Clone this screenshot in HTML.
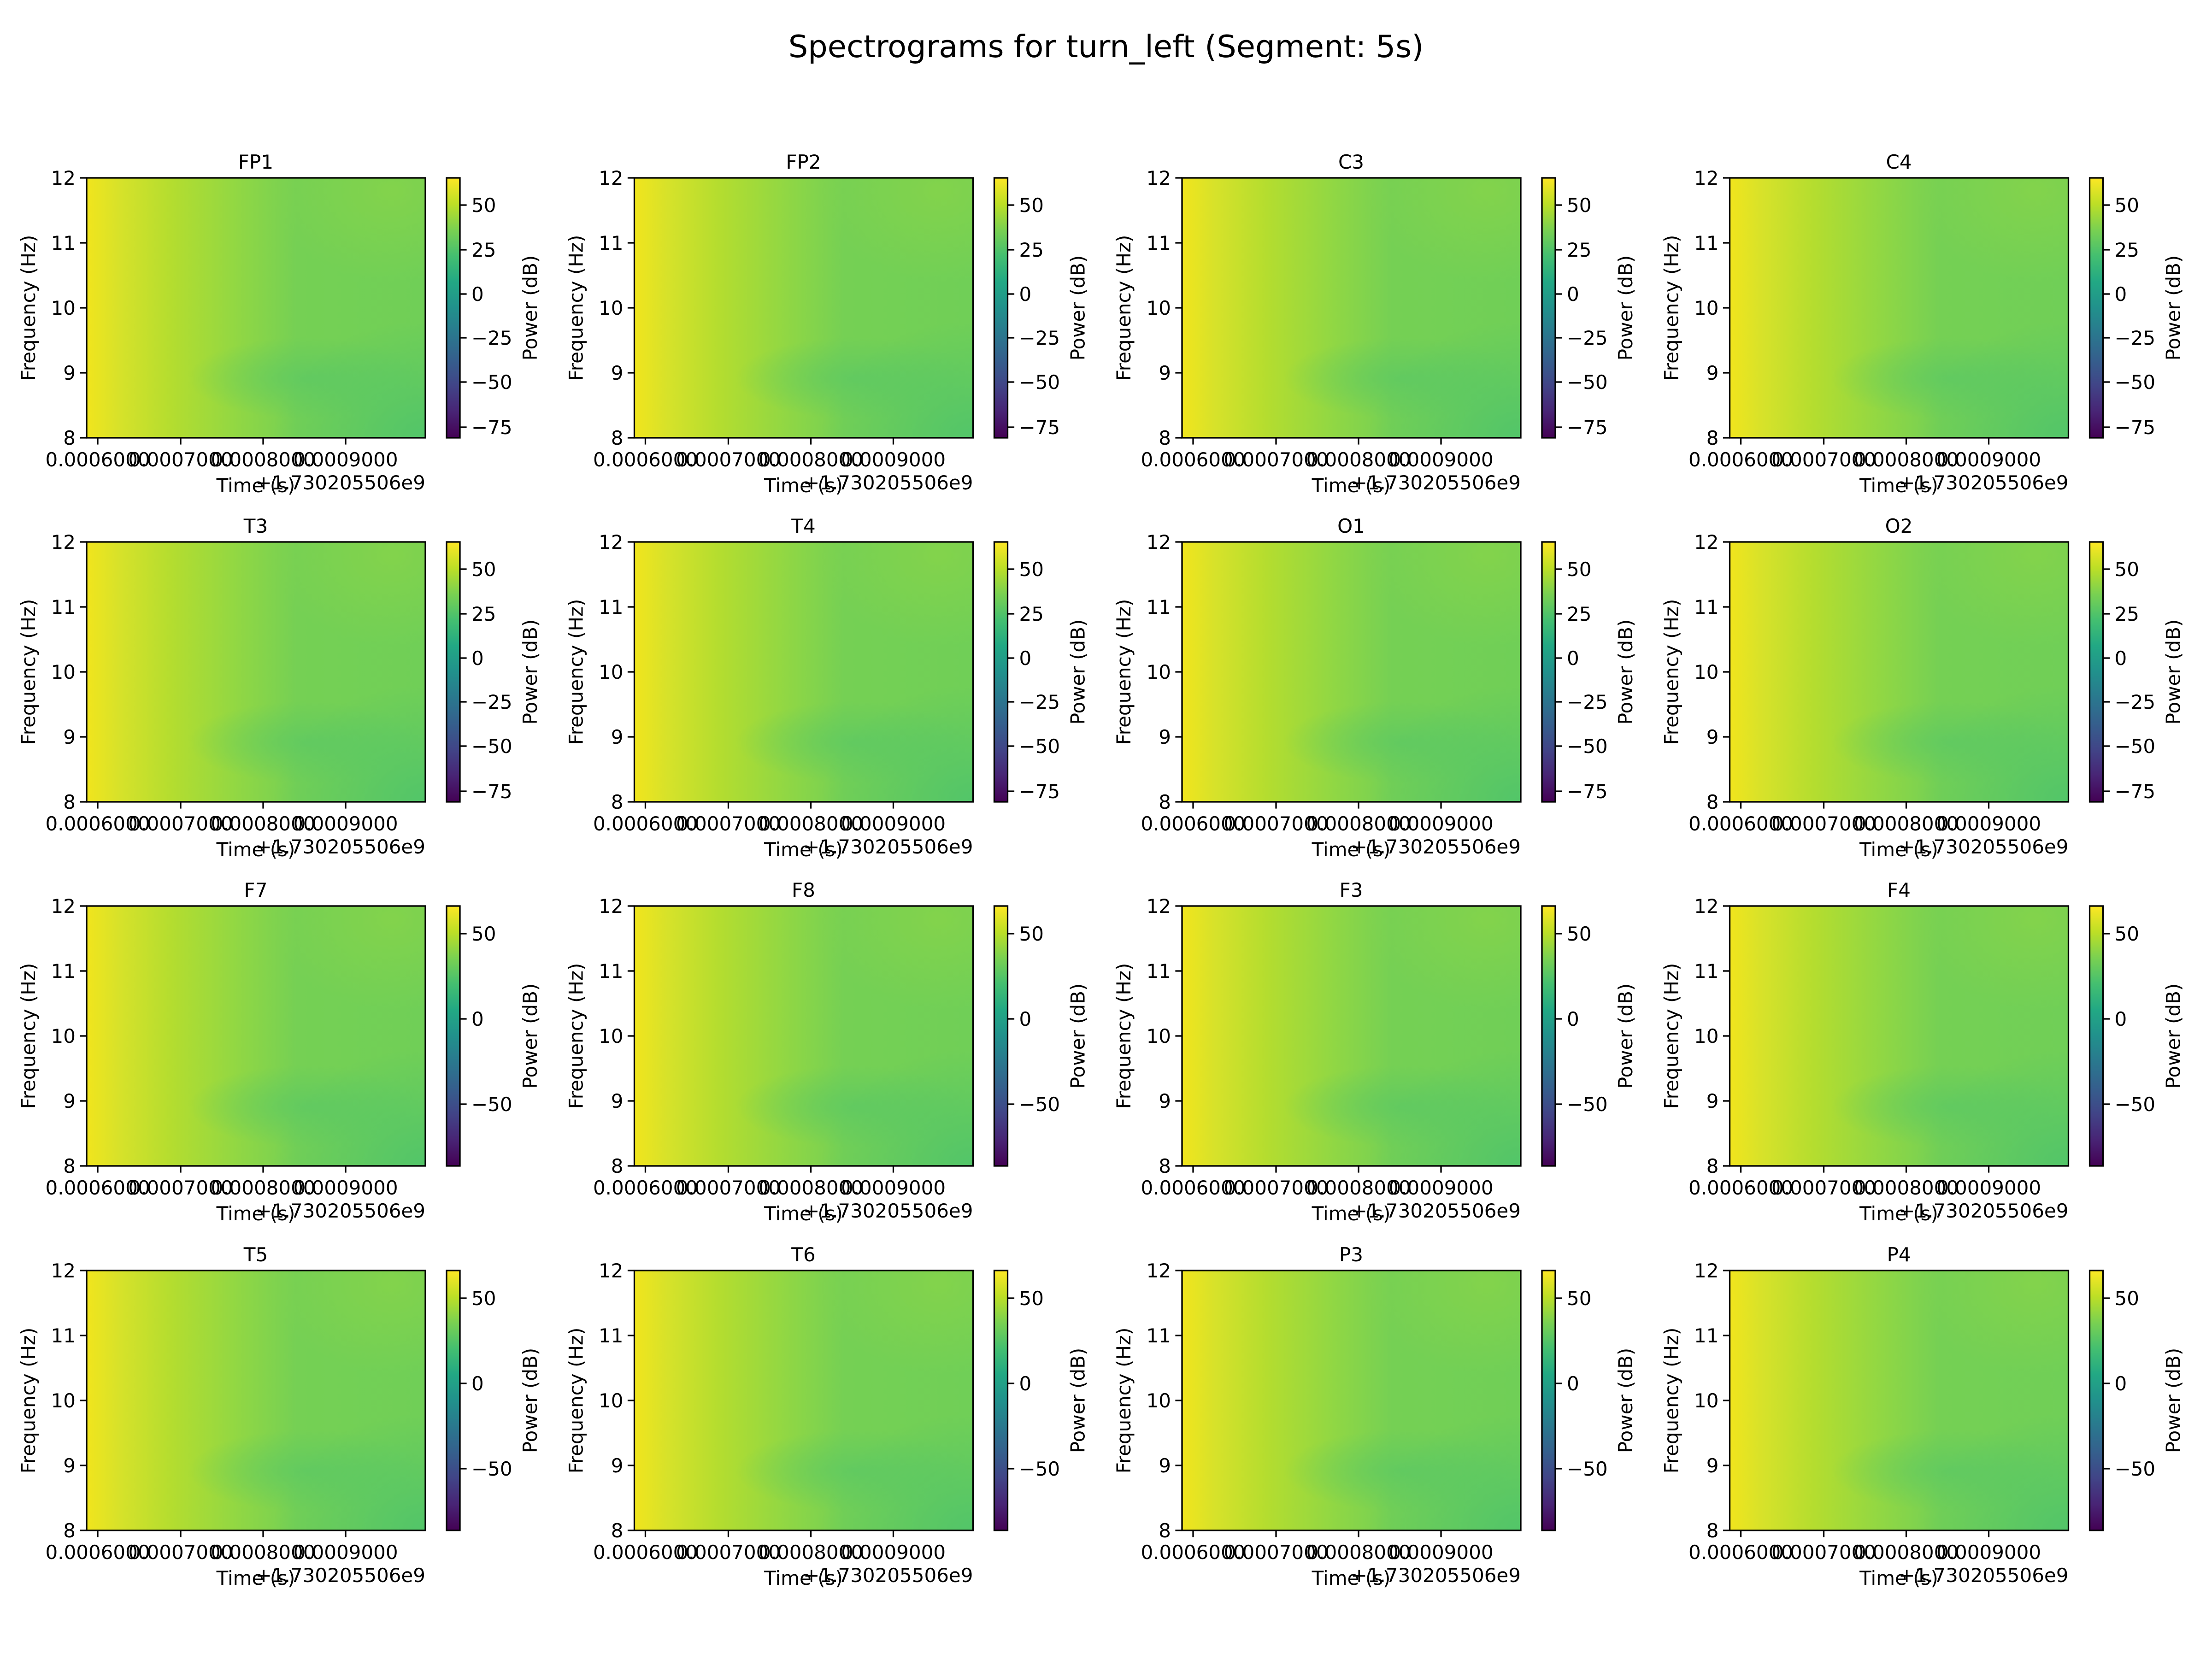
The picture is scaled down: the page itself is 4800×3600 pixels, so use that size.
<!DOCTYPE html>
<html><head><meta charset="utf-8"><style>
html,body{margin:0;padding:0;background:#fff;}
svg{display:block;}
text{font-family:"DejaVu Sans","Liberation Sans",sans-serif;fill:#000;}
.t{font-size:42px;}
.m{text-anchor:middle;}
.e{text-anchor:end;}
</style></head><body>
<svg width="4800" height="3600" viewBox="0 0 4800 3600" xmlns="http://www.w3.org/2000/svg">
<defs>
<linearGradient id="hx" x1="0" y1="0" x2="1" y2="0">
<stop offset="0" stop-color="#f1e51d"/><stop offset="0.1" stop-color="#d6e22a"/><stop offset="0.25" stop-color="#b4dd2f"/><stop offset="0.45" stop-color="#90d744"/><stop offset="0.62" stop-color="#75d054"/><stop offset="1" stop-color="#70cf57"/>
</linearGradient>
<radialGradient id="r1" cx="0.65" cy="0.77" r="0.35" gradientTransform="translate(0.65 0.77) scale(1 0.45) translate(-0.65 -0.77)">
<stop offset="0" stop-color="#5ec962" stop-opacity="0.8"/><stop offset="1" stop-color="#5ec962" stop-opacity="0"/>
</radialGradient>
<radialGradient id="r2" cx="1" cy="1" r="0.45">
<stop offset="0" stop-color="#52c569" stop-opacity="1"/><stop offset="1" stop-color="#52c569" stop-opacity="0"/>
</radialGradient>
<radialGradient id="r3" cx="0.9" cy="0.05" r="0.35">
<stop offset="0" stop-color="#8ad547" stop-opacity="0.7"/><stop offset="1" stop-color="#8ad547" stop-opacity="0"/>
</radialGradient>
<linearGradient id="vir" x1="0" y1="1" x2="0" y2="0">
<stop offset="0" stop-color="#440154"/><stop offset="0.1" stop-color="#482475"/><stop offset="0.2" stop-color="#414487"/><stop offset="0.3" stop-color="#355f8d"/><stop offset="0.4" stop-color="#2a788e"/><stop offset="0.5" stop-color="#21918c"/><stop offset="0.6" stop-color="#22a884"/><stop offset="0.7" stop-color="#44bf70"/><stop offset="0.8" stop-color="#7ad151"/><stop offset="0.9" stop-color="#bddf26"/><stop offset="1" stop-color="#fde725"/>
</linearGradient>
<g id="base">
<rect x="0" y="0" width="735" height="564" fill="url(#hx)"/>
<rect x="0" y="0" width="735" height="564" fill="url(#r1)"/>
<rect x="0" y="0" width="735" height="564" fill="url(#r2)"/>
<rect x="0" y="0" width="735" height="564" fill="url(#r3)"/>
<rect x="0" y="0" width="735" height="564" fill="none" stroke="#000" stroke-width="3.3"/>
<g stroke="#000" stroke-width="3.3">
<line x1="-14.6" y1="0" x2="0" y2="0"/><line x1="-14.6" y1="141" x2="0" y2="141"/><line x1="-14.6" y1="282" x2="0" y2="282"/><line x1="-14.6" y1="423" x2="0" y2="423"/><line x1="-14.6" y1="564" x2="0" y2="564"/>
<line x1="24" y1="564" x2="24" y2="578.6"/><line x1="204" y1="564" x2="204" y2="578.6"/><line x1="383" y1="564" x2="383" y2="578.6"/><line x1="562" y1="564" x2="562" y2="578.6"/>
</g>
<rect x="781" y="0" width="29" height="564" fill="url(#vir)" stroke="#000" stroke-width="3.3"/>
</g>
<g id="cbA" stroke="#000" stroke-width="3.3">
<line x1="810" y1="59" x2="824.6" y2="59"/><line x1="810" y1="156" x2="824.6" y2="156"/><line x1="810" y1="252" x2="824.6" y2="252"/><line x1="810" y1="347" x2="824.6" y2="347"/><line x1="810" y1="443" x2="824.6" y2="443"/><line x1="810" y1="541" x2="824.6" y2="541"/>
</g>
<g id="cbB" stroke="#000" stroke-width="3.3">
<line x1="810" y1="60" x2="824.6" y2="60"/><line x1="810" y1="245" x2="824.6" y2="245"/><line x1="810" y1="430" x2="824.6" y2="430"/>
</g>
</defs>
<text x="2400" y="124" style="font-size:67px" class="m">Spectrograms for turn_left (Segment: 5s)</text>

<!-- Row 1 -->
<g transform="translate(188,386)"><use href="#base"/><use href="#cbA"/><text x="367" y="-20" class="t m">FP1</text><text x="-24" y="15" class="t e">12</text><text x="-24" y="156" class="t e">11</text><text x="-24" y="297" class="t e">10</text><text x="-24" y="438" class="t e">9</text><text x="-24" y="579" class="t e">8</text><text x="24" y="626" class="t m">0.0006000</text><text x="204" y="626" class="t m">0.0007000</text><text x="383" y="626" class="t m">0.0008000</text><text x="562" y="626" class="t m">0.0009000</text><text x="735" y="676" class="t e">+1.730205506e9</text><text x="367" y="682" class="t m">Time (s)</text><text transform="translate(-112,282) rotate(-90)" class="t m">Frequency (Hz)</text><text x="835" y="74" class="t">50</text><text x="835" y="171" class="t">25</text><text x="835" y="267" class="t">0</text><text x="835" y="362" class="t">−25</text><text x="835" y="458" class="t">−50</text><text x="835" y="556" class="t">−75</text><text transform="translate(977,282) rotate(-90)" class="t m">Power (dB)</text></g>
<g transform="translate(1376.5,386)"><use href="#base"/><use href="#cbA"/><text x="367" y="-20" class="t m">FP2</text><text x="-24" y="15" class="t e">12</text><text x="-24" y="156" class="t e">11</text><text x="-24" y="297" class="t e">10</text><text x="-24" y="438" class="t e">9</text><text x="-24" y="579" class="t e">8</text><text x="24" y="626" class="t m">0.0006000</text><text x="204" y="626" class="t m">0.0007000</text><text x="383" y="626" class="t m">0.0008000</text><text x="562" y="626" class="t m">0.0009000</text><text x="735" y="676" class="t e">+1.730205506e9</text><text x="367" y="682" class="t m">Time (s)</text><text transform="translate(-112,282) rotate(-90)" class="t m">Frequency (Hz)</text><text x="835" y="74" class="t">50</text><text x="835" y="171" class="t">25</text><text x="835" y="267" class="t">0</text><text x="835" y="362" class="t">−25</text><text x="835" y="458" class="t">−50</text><text x="835" y="556" class="t">−75</text><text transform="translate(977,282) rotate(-90)" class="t m">Power (dB)</text></g>
<g transform="translate(2565,386)"><use href="#base"/><use href="#cbA"/><text x="367" y="-20" class="t m">C3</text><text x="-24" y="15" class="t e">12</text><text x="-24" y="156" class="t e">11</text><text x="-24" y="297" class="t e">10</text><text x="-24" y="438" class="t e">9</text><text x="-24" y="579" class="t e">8</text><text x="24" y="626" class="t m">0.0006000</text><text x="204" y="626" class="t m">0.0007000</text><text x="383" y="626" class="t m">0.0008000</text><text x="562" y="626" class="t m">0.0009000</text><text x="735" y="676" class="t e">+1.730205506e9</text><text x="367" y="682" class="t m">Time (s)</text><text transform="translate(-112,282) rotate(-90)" class="t m">Frequency (Hz)</text><text x="835" y="74" class="t">50</text><text x="835" y="171" class="t">25</text><text x="835" y="267" class="t">0</text><text x="835" y="362" class="t">−25</text><text x="835" y="458" class="t">−50</text><text x="835" y="556" class="t">−75</text><text transform="translate(977,282) rotate(-90)" class="t m">Power (dB)</text></g>
<g transform="translate(3753.5,386)"><use href="#base"/><use href="#cbA"/><text x="367" y="-20" class="t m">C4</text><text x="-24" y="15" class="t e">12</text><text x="-24" y="156" class="t e">11</text><text x="-24" y="297" class="t e">10</text><text x="-24" y="438" class="t e">9</text><text x="-24" y="579" class="t e">8</text><text x="24" y="626" class="t m">0.0006000</text><text x="204" y="626" class="t m">0.0007000</text><text x="383" y="626" class="t m">0.0008000</text><text x="562" y="626" class="t m">0.0009000</text><text x="735" y="676" class="t e">+1.730205506e9</text><text x="367" y="682" class="t m">Time (s)</text><text transform="translate(-112,282) rotate(-90)" class="t m">Frequency (Hz)</text><text x="835" y="74" class="t">50</text><text x="835" y="171" class="t">25</text><text x="835" y="267" class="t">0</text><text x="835" y="362" class="t">−25</text><text x="835" y="458" class="t">−50</text><text x="835" y="556" class="t">−75</text><text transform="translate(977,282) rotate(-90)" class="t m">Power (dB)</text></g>

<!-- Row 2 -->
<g transform="translate(188,1176)"><use href="#base"/><use href="#cbA"/><text x="367" y="-20" class="t m">T3</text><text x="-24" y="15" class="t e">12</text><text x="-24" y="156" class="t e">11</text><text x="-24" y="297" class="t e">10</text><text x="-24" y="438" class="t e">9</text><text x="-24" y="579" class="t e">8</text><text x="24" y="626" class="t m">0.0006000</text><text x="204" y="626" class="t m">0.0007000</text><text x="383" y="626" class="t m">0.0008000</text><text x="562" y="626" class="t m">0.0009000</text><text x="735" y="676" class="t e">+1.730205506e9</text><text x="367" y="682" class="t m">Time (s)</text><text transform="translate(-112,282) rotate(-90)" class="t m">Frequency (Hz)</text><text x="835" y="74" class="t">50</text><text x="835" y="171" class="t">25</text><text x="835" y="267" class="t">0</text><text x="835" y="362" class="t">−25</text><text x="835" y="458" class="t">−50</text><text x="835" y="556" class="t">−75</text><text transform="translate(977,282) rotate(-90)" class="t m">Power (dB)</text></g>
<g transform="translate(1376.5,1176)"><use href="#base"/><use href="#cbA"/><text x="367" y="-20" class="t m">T4</text><text x="-24" y="15" class="t e">12</text><text x="-24" y="156" class="t e">11</text><text x="-24" y="297" class="t e">10</text><text x="-24" y="438" class="t e">9</text><text x="-24" y="579" class="t e">8</text><text x="24" y="626" class="t m">0.0006000</text><text x="204" y="626" class="t m">0.0007000</text><text x="383" y="626" class="t m">0.0008000</text><text x="562" y="626" class="t m">0.0009000</text><text x="735" y="676" class="t e">+1.730205506e9</text><text x="367" y="682" class="t m">Time (s)</text><text transform="translate(-112,282) rotate(-90)" class="t m">Frequency (Hz)</text><text x="835" y="74" class="t">50</text><text x="835" y="171" class="t">25</text><text x="835" y="267" class="t">0</text><text x="835" y="362" class="t">−25</text><text x="835" y="458" class="t">−50</text><text x="835" y="556" class="t">−75</text><text transform="translate(977,282) rotate(-90)" class="t m">Power (dB)</text></g>
<g transform="translate(2565,1176)"><use href="#base"/><use href="#cbA"/><text x="367" y="-20" class="t m">O1</text><text x="-24" y="15" class="t e">12</text><text x="-24" y="156" class="t e">11</text><text x="-24" y="297" class="t e">10</text><text x="-24" y="438" class="t e">9</text><text x="-24" y="579" class="t e">8</text><text x="24" y="626" class="t m">0.0006000</text><text x="204" y="626" class="t m">0.0007000</text><text x="383" y="626" class="t m">0.0008000</text><text x="562" y="626" class="t m">0.0009000</text><text x="735" y="676" class="t e">+1.730205506e9</text><text x="367" y="682" class="t m">Time (s)</text><text transform="translate(-112,282) rotate(-90)" class="t m">Frequency (Hz)</text><text x="835" y="74" class="t">50</text><text x="835" y="171" class="t">25</text><text x="835" y="267" class="t">0</text><text x="835" y="362" class="t">−25</text><text x="835" y="458" class="t">−50</text><text x="835" y="556" class="t">−75</text><text transform="translate(977,282) rotate(-90)" class="t m">Power (dB)</text></g>
<g transform="translate(3753.5,1176)"><use href="#base"/><use href="#cbA"/><text x="367" y="-20" class="t m">O2</text><text x="-24" y="15" class="t e">12</text><text x="-24" y="156" class="t e">11</text><text x="-24" y="297" class="t e">10</text><text x="-24" y="438" class="t e">9</text><text x="-24" y="579" class="t e">8</text><text x="24" y="626" class="t m">0.0006000</text><text x="204" y="626" class="t m">0.0007000</text><text x="383" y="626" class="t m">0.0008000</text><text x="562" y="626" class="t m">0.0009000</text><text x="735" y="676" class="t e">+1.730205506e9</text><text x="367" y="682" class="t m">Time (s)</text><text transform="translate(-112,282) rotate(-90)" class="t m">Frequency (Hz)</text><text x="835" y="74" class="t">50</text><text x="835" y="171" class="t">25</text><text x="835" y="267" class="t">0</text><text x="835" y="362" class="t">−25</text><text x="835" y="458" class="t">−50</text><text x="835" y="556" class="t">−75</text><text transform="translate(977,282) rotate(-90)" class="t m">Power (dB)</text></g>

<!-- Row 3 -->
<g transform="translate(188,1966)"><use href="#base"/><use href="#cbB"/><text x="367" y="-20" class="t m">F7</text><text x="-24" y="15" class="t e">12</text><text x="-24" y="156" class="t e">11</text><text x="-24" y="297" class="t e">10</text><text x="-24" y="438" class="t e">9</text><text x="-24" y="579" class="t e">8</text><text x="24" y="626" class="t m">0.0006000</text><text x="204" y="626" class="t m">0.0007000</text><text x="383" y="626" class="t m">0.0008000</text><text x="562" y="626" class="t m">0.0009000</text><text x="735" y="676" class="t e">+1.730205506e9</text><text x="367" y="682" class="t m">Time (s)</text><text transform="translate(-112,282) rotate(-90)" class="t m">Frequency (Hz)</text><text x="835" y="75" class="t">50</text><text x="835" y="260" class="t">0</text><text x="835" y="445" class="t">−50</text><text transform="translate(977,282) rotate(-90)" class="t m">Power (dB)</text></g>
<g transform="translate(1376.5,1966)"><use href="#base"/><use href="#cbB"/><text x="367" y="-20" class="t m">F8</text><text x="-24" y="15" class="t e">12</text><text x="-24" y="156" class="t e">11</text><text x="-24" y="297" class="t e">10</text><text x="-24" y="438" class="t e">9</text><text x="-24" y="579" class="t e">8</text><text x="24" y="626" class="t m">0.0006000</text><text x="204" y="626" class="t m">0.0007000</text><text x="383" y="626" class="t m">0.0008000</text><text x="562" y="626" class="t m">0.0009000</text><text x="735" y="676" class="t e">+1.730205506e9</text><text x="367" y="682" class="t m">Time (s)</text><text transform="translate(-112,282) rotate(-90)" class="t m">Frequency (Hz)</text><text x="835" y="75" class="t">50</text><text x="835" y="260" class="t">0</text><text x="835" y="445" class="t">−50</text><text transform="translate(977,282) rotate(-90)" class="t m">Power (dB)</text></g>
<g transform="translate(2565,1966)"><use href="#base"/><use href="#cbB"/><text x="367" y="-20" class="t m">F3</text><text x="-24" y="15" class="t e">12</text><text x="-24" y="156" class="t e">11</text><text x="-24" y="297" class="t e">10</text><text x="-24" y="438" class="t e">9</text><text x="-24" y="579" class="t e">8</text><text x="24" y="626" class="t m">0.0006000</text><text x="204" y="626" class="t m">0.0007000</text><text x="383" y="626" class="t m">0.0008000</text><text x="562" y="626" class="t m">0.0009000</text><text x="735" y="676" class="t e">+1.730205506e9</text><text x="367" y="682" class="t m">Time (s)</text><text transform="translate(-112,282) rotate(-90)" class="t m">Frequency (Hz)</text><text x="835" y="75" class="t">50</text><text x="835" y="260" class="t">0</text><text x="835" y="445" class="t">−50</text><text transform="translate(977,282) rotate(-90)" class="t m">Power (dB)</text></g>
<g transform="translate(3753.5,1966)"><use href="#base"/><use href="#cbB"/><text x="367" y="-20" class="t m">F4</text><text x="-24" y="15" class="t e">12</text><text x="-24" y="156" class="t e">11</text><text x="-24" y="297" class="t e">10</text><text x="-24" y="438" class="t e">9</text><text x="-24" y="579" class="t e">8</text><text x="24" y="626" class="t m">0.0006000</text><text x="204" y="626" class="t m">0.0007000</text><text x="383" y="626" class="t m">0.0008000</text><text x="562" y="626" class="t m">0.0009000</text><text x="735" y="676" class="t e">+1.730205506e9</text><text x="367" y="682" class="t m">Time (s)</text><text transform="translate(-112,282) rotate(-90)" class="t m">Frequency (Hz)</text><text x="835" y="75" class="t">50</text><text x="835" y="260" class="t">0</text><text x="835" y="445" class="t">−50</text><text transform="translate(977,282) rotate(-90)" class="t m">Power (dB)</text></g>

<!-- Row 4 -->
<g transform="translate(188,2757)"><use href="#base"/><use href="#cbB"/><text x="367" y="-20" class="t m">T5</text><text x="-24" y="15" class="t e">12</text><text x="-24" y="156" class="t e">11</text><text x="-24" y="297" class="t e">10</text><text x="-24" y="438" class="t e">9</text><text x="-24" y="579" class="t e">8</text><text x="24" y="626" class="t m">0.0006000</text><text x="204" y="626" class="t m">0.0007000</text><text x="383" y="626" class="t m">0.0008000</text><text x="562" y="626" class="t m">0.0009000</text><text x="735" y="676" class="t e">+1.730205506e9</text><text x="367" y="682" class="t m">Time (s)</text><text transform="translate(-112,282) rotate(-90)" class="t m">Frequency (Hz)</text><text x="835" y="75" class="t">50</text><text x="835" y="260" class="t">0</text><text x="835" y="445" class="t">−50</text><text transform="translate(977,282) rotate(-90)" class="t m">Power (dB)</text></g>
<g transform="translate(1376.5,2757)"><use href="#base"/><use href="#cbB"/><text x="367" y="-20" class="t m">T6</text><text x="-24" y="15" class="t e">12</text><text x="-24" y="156" class="t e">11</text><text x="-24" y="297" class="t e">10</text><text x="-24" y="438" class="t e">9</text><text x="-24" y="579" class="t e">8</text><text x="24" y="626" class="t m">0.0006000</text><text x="204" y="626" class="t m">0.0007000</text><text x="383" y="626" class="t m">0.0008000</text><text x="562" y="626" class="t m">0.0009000</text><text x="735" y="676" class="t e">+1.730205506e9</text><text x="367" y="682" class="t m">Time (s)</text><text transform="translate(-112,282) rotate(-90)" class="t m">Frequency (Hz)</text><text x="835" y="75" class="t">50</text><text x="835" y="260" class="t">0</text><text x="835" y="445" class="t">−50</text><text transform="translate(977,282) rotate(-90)" class="t m">Power (dB)</text></g>
<g transform="translate(2565,2757)"><use href="#base"/><use href="#cbB"/><text x="367" y="-20" class="t m">P3</text><text x="-24" y="15" class="t e">12</text><text x="-24" y="156" class="t e">11</text><text x="-24" y="297" class="t e">10</text><text x="-24" y="438" class="t e">9</text><text x="-24" y="579" class="t e">8</text><text x="24" y="626" class="t m">0.0006000</text><text x="204" y="626" class="t m">0.0007000</text><text x="383" y="626" class="t m">0.0008000</text><text x="562" y="626" class="t m">0.0009000</text><text x="735" y="676" class="t e">+1.730205506e9</text><text x="367" y="682" class="t m">Time (s)</text><text transform="translate(-112,282) rotate(-90)" class="t m">Frequency (Hz)</text><text x="835" y="75" class="t">50</text><text x="835" y="260" class="t">0</text><text x="835" y="445" class="t">−50</text><text transform="translate(977,282) rotate(-90)" class="t m">Power (dB)</text></g>
<g transform="translate(3753.5,2757)"><use href="#base"/><use href="#cbB"/><text x="367" y="-20" class="t m">P4</text><text x="-24" y="15" class="t e">12</text><text x="-24" y="156" class="t e">11</text><text x="-24" y="297" class="t e">10</text><text x="-24" y="438" class="t e">9</text><text x="-24" y="579" class="t e">8</text><text x="24" y="626" class="t m">0.0006000</text><text x="204" y="626" class="t m">0.0007000</text><text x="383" y="626" class="t m">0.0008000</text><text x="562" y="626" class="t m">0.0009000</text><text x="735" y="676" class="t e">+1.730205506e9</text><text x="367" y="682" class="t m">Time (s)</text><text transform="translate(-112,282) rotate(-90)" class="t m">Frequency (Hz)</text><text x="835" y="75" class="t">50</text><text x="835" y="260" class="t">0</text><text x="835" y="445" class="t">−50</text><text transform="translate(977,282) rotate(-90)" class="t m">Power (dB)</text></g>
</svg>
</body></html>
